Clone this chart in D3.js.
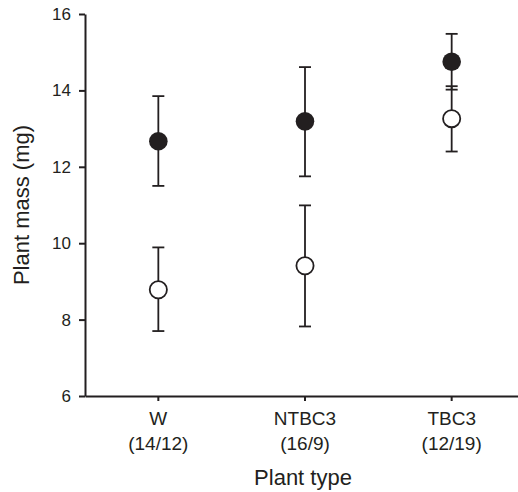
<!DOCTYPE html>
<meta charset="utf-8">
<style>
body { margin: 0; background: #fff; }
text { font-family: "Liberation Sans", Arial, sans-serif; fill: #231f20; }
</style>
<body>
<script src="https://d3js.org/d3.v7.min.js"></script>
<script>

// data
const categories = ["W", "NTBC3", "TBC3"];
const sampleSizes = ["(14/12)", "(16/9)", "(12/19)"];
const filledMean = [12.67, 13.19, 14.75];
const filledLow = [11.50, 11.75, 14.02];
const filledHigh = [13.85, 14.61, 15.48];
const openMean = [8.78, 9.41, 13.26];
const openLow = [7.70, 7.82, 12.40];
const openHigh = [9.89, 10.99, 14.11];
const yTicks = [6, 8, 10, 12, 14, 16];

const width = 518, height = 492;
const ink = "#231f20";

const svg = d3.select("body").append("svg")
    .attr("width", width)
    .attr("height", height);

const x = d3.scaleBand().domain(categories).range([85, 525]).padding(0);
const y = d3.scaleLinear().domain([6, 16]).range([396, 14]);
const cx = d => x(d) + x.bandwidth() / 2;

// axes
const yAxis = svg.append("g")
    .attr("transform", "translate(85,0)")
    .call(d3.axisLeft(y).tickValues(yTicks).tickSize(6).tickSizeOuter(0).tickPadding(8));
yAxis.selectAll("text").style("font-size", "17px");

const xAxis = svg.append("g")
    .attr("transform", "translate(0,396)")
    .call(d3.axisBottom(x).tickSize(5).tickSizeOuter(0).tickFormat(""));

svg.selectAll(".domain, .tick line")
    .attr("stroke", ink)
    .attr("stroke-width", 2);

svg.selectAll(".catlabel")
  .data(categories)
  .enter().append("text")
    .attr("x", d => cx(d))
    .attr("y", 425)
    .attr("text-anchor", "middle")
    .style("font-size", "19px")
    .text(d => d);

svg.selectAll(".nlabel")
  .data(sampleSizes)
  .enter().append("text")
    .attr("x", (d, i) => cx(categories[i]))
    .attr("y", 450)
    .attr("text-anchor", "middle")
    .style("font-size", "19px")
    .text(d => d);

svg.append("text")
    .attr("x", 303)
    .attr("y", 485)
    .attr("text-anchor", "middle")
    .style("font-size", "22px")
    .text("Plant type");

svg.append("text")
    .attr("transform", "translate(29,205) rotate(-90)")
    .attr("text-anchor", "middle")
    .style("font-size", "22px")
    .text("Plant mass (mg)");

// error bars + markers
function drawSeries(mean, low, high, fill) {
  const g = svg.append("g");
  const rows = categories.map((c, i) => ({c, m: mean[i], lo: low[i], hi: high[i]}));
  const capW = 6;

  g.selectAll(".stem").data(rows).enter().append("line")
      .attr("x1", d => cx(d.c)).attr("x2", d => cx(d.c))
      .attr("y1", d => y(d.lo)).attr("y2", d => y(d.hi))
      .attr("stroke", ink).attr("stroke-width", 1.8);

  ["lo", "hi"].forEach(k => {
    g.selectAll(".cap-" + k).data(rows).enter().append("line")
        .attr("x1", d => cx(d.c) - capW).attr("x2", d => cx(d.c) + capW)
        .attr("y1", d => y(d[k])).attr("y2", d => y(d[k]))
        .attr("stroke", ink).attr("stroke-width", 1.8);
  });

  g.selectAll("circle").data(rows).enter().append("circle")
      .attr("cx", d => cx(d.c))
      .attr("cy", d => y(d.m))
      .attr("r", fill ? 9.3 : 8.6)
      .attr("fill", fill ? ink : "#fff")
      .attr("stroke", ink)
      .attr("stroke-width", fill ? 0 : 1.8);
}

drawSeries(openMean, openLow, openHigh, false);
drawSeries(filledMean, filledLow, filledHigh, true);

</script>
